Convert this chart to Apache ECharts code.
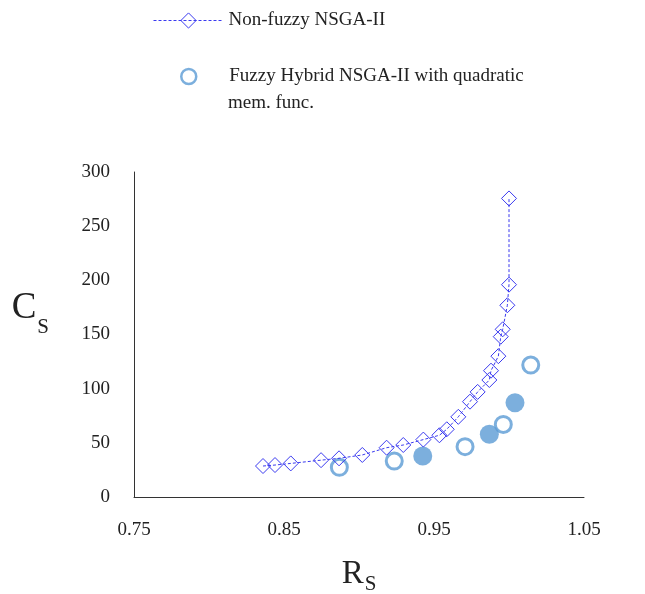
<!DOCTYPE html>
<html>
<head>
<meta charset="utf-8">
<script src="https://cdn.jsdelivr.net/npm/echarts@6/dist/echarts.min.js"></script>
<style>
  html, body { margin: 0; padding: 0; background: #fff; }
  #chart { width: 645px; height: 594px; }
</style>
</head>
<body>
<div id="chart"></div>
<script>
// Pareto front obtained with plain NSGA-II (reliability Rs, cost Cs)
const nonFuzzyRs = [0.836, 0.844, 0.8545, 0.8747, 0.8867, 0.9022, 0.9184, 0.9295, 0.9429, 0.9536,
                    0.9585, 0.9662, 0.974, 0.9791, 0.9869, 0.988, 0.9929, 0.9945, 0.9958, 0.9989,
                    1.0, 1.0];
const nonFuzzyCs = [28.6, 29.5, 31, 34, 35.7, 38.8, 45.5, 48, 53, 57,
                    62.5, 74, 88, 97, 108, 116.6, 130, 148, 154.8, 177,
                    196, 275.6];

// Fuzzy hybrid NSGA-II solutions (quadratic membership function)
const fuzzyRs = [0.8869, 0.9235, 0.9707, 0.9962, 1.0145];
const fuzzyCs = [27.4, 33.2, 46.5, 67, 121.8];

// Highlighted fuzzy hybrid solutions (filled markers)
const fuzzyFilledRs = [0.9425, 0.9869, 1.004];
const fuzzyFilledCs = [37.8, 58, 87];

// Axis tick labels
const xTickLabels = ['0.75', '0.85', '0.95', '1.05'];
const yTickLabels = ['0', '50', '100', '150', '200', '250', '300'];

const NAME_NF = 'Non-fuzzy NSGA-II';
const NAME_FZ = 'Fuzzy Hybrid NSGA-II with quadratic mem. func.';

const pair = (xs, ys) => xs.map((x, i) => [x, ys[i]]);

const serif = '"Liberation Serif", "Times New Roman", serif';
const lineBlue = '#3a3af0';
const circleBlue = '#5b9bd5';
const textColor = '#222';

const chart = echarts.init(document.getElementById('chart'), null, { renderer: 'canvas' });

chart.setOption({
  backgroundColor: '#fff',
  animation: false,
  grid: { left: 134, right: 61, top: 172, bottom: 97, containLabel: false, outerBoundsMode: 'none' },
  legend: [
    {
      data: [{
        name: NAME_NF,
        itemStyle: { color: 'rgba(255,255,255,0)', borderColor: lineBlue, borderWidth: 1 },
        lineStyle: { color: lineBlue, width: 1, type: [3, 2] }
      }],
      left: 153, top: 11, padding: 0,
      itemWidth: 70, itemHeight: 19, itemGap: 0,
      textStyle: { fontFamily: serif, fontSize: 19, color: textColor },
      selectedMode: false
    },
    {
      data: [{
        name: NAME_FZ,
        itemStyle: { color: 'rgba(255,255,255,0)', borderColor: circleBlue, borderWidth: 2.5 }
      }],
      left: 180, top: 67, padding: 0,
      itemWidth: 15, itemHeight: 15, itemGap: 0,
      formatter: () => 'Fuzzy Hybrid NSGA-II with quadratic',
      textStyle: { fontFamily: serif, fontSize: 19, color: textColor, padding: [0, 0, 0, 28] },
      selectedMode: false
    }
  ],
  graphic: [
    {
      type: 'text', left: 228, top: 94,
      style: { text: 'mem. func.', font: '19px ' + serif, fill: textColor }
    }
  ],
  xAxis: {
    type: 'value',
    min: 0.75, max: 1.05, interval: 0.05,
    name: '{b|R}{s|S}',
    nameLocation: 'middle',
    nameGap: 61,
    nameTextStyle: {
      rich: {
        b: { fontFamily: serif, fontSize: 33, lineHeight: 36, color: textColor, verticalAlign: 'top' },
        s: { fontFamily: serif, fontSize: 21, lineHeight: 22, color: textColor, verticalAlign: 'top', padding: [16, 0, 0, 1] }
      }
    },
    axisLine: { show: true, lineStyle: { color: '#333', width: 1 } },
    axisTick: { show: false },
    splitLine: { show: false },
    axisLabel: {
      margin: 24,
      fontFamily: serif, fontSize: 19, color: textColor,
      formatter: v => {
        const s = v.toFixed(2);
        return xTickLabels.includes(s) ? s : '';
      }
    }
  },
  yAxis: {
    type: 'value',
    min: 0, max: 300, interval: 50,
    name: '{b|C}{s|S}',
    nameLocation: 'middle',
    nameRotate: 0,
    nameGap: 85,
    nameTextStyle: {
      padding: [0, 0, 49, 0],
      rich: {
        b: { fontFamily: serif, fontSize: 37, lineHeight: 40, color: textColor, verticalAlign: 'top' },
        s: { fontFamily: serif, fontSize: 21, lineHeight: 22, color: textColor, verticalAlign: 'top', padding: [27, 0, 0, 1] }
      }
    },
    axisLine: { show: true, lineStyle: { color: '#333', width: 1 } },
    axisTick: { show: false },
    splitLine: { show: false },
    axisLabel: {
      margin: 24,
      fontFamily: serif, fontSize: 19, color: textColor,
      formatter: v => {
        const s = String(Math.round(v));
        return yTickLabels.includes(s) ? s : '';
      }
    }
  },
  series: [
    {
      name: NAME_NF,
      type: 'line',
      data: pair(nonFuzzyRs, nonFuzzyCs),
      symbol: 'diamond',
      symbolSize: 15,
      showAllSymbol: true,
      itemStyle: { color: 'rgba(255,255,255,0)', borderColor: lineBlue, borderWidth: 1 },
      lineStyle: { color: lineBlue, width: 1, type: [3, 2] },
      z: 3
    },
    {
      name: NAME_FZ,
      type: 'scatter',
      data: pair(fuzzyRs, fuzzyCs),
      symbol: 'circle',
      symbolSize: 16,
      itemStyle: { color: 'rgba(255,255,255,0)', borderColor: circleBlue, borderWidth: 3 },
      z: 2
    },
    {
      name: NAME_FZ,
      type: 'scatter',
      data: pair(fuzzyFilledRs, fuzzyFilledCs),
      symbol: 'circle',
      symbolSize: 19,
      itemStyle: { color: circleBlue },
      z: 2
    }
  ]
});
</script>
</body>
</html>
